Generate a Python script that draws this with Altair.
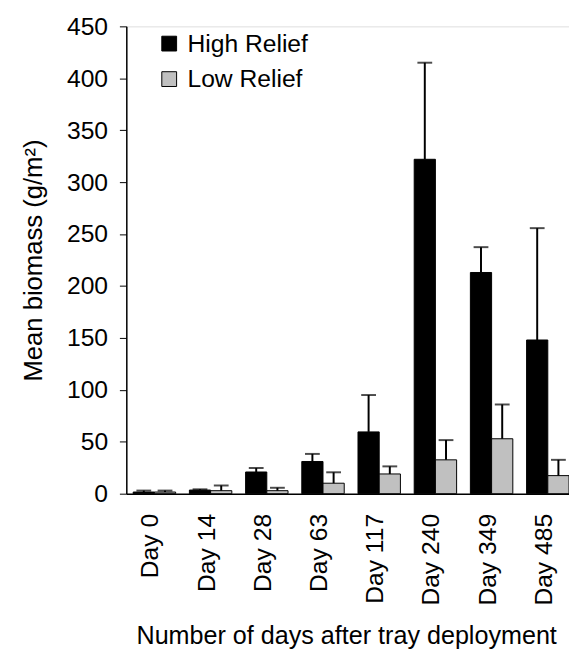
import altair as alt
import pandas as pd

days = ["Day 0", "Day 14", "Day 28", "Day 63", "Day 117", "Day 240", "Day 349", "Day 485"]
high_mean = [1.6, 3.5, 20.9, 31.0, 59.5, 322.0, 213.0, 148.0]
high_err = [1.4, 0.7, 3.8, 7.3, 35.5, 93.0, 24.4, 107.7]
low_mean = [1.6, 2.9, 2.9, 10.1, 19.0, 32.6, 52.9, 17.4]
low_err = [1.4, 5.0, 2.8, 10.5, 7.3, 19.0, 33.0, 15.2]
series = ["High Relief", "Low Relief"]
colors = ["#000000", "#c0c0c0"]
y_ticks = [0, 50, 100, 150, 200, 250, 300, 350, 400, 450]

rows = []
for i, d in enumerate(days):
    rows.append({"day": d, "series": series[0], "mean": high_mean[i], "top": high_mean[i] + high_err[i]})
    rows.append({"day": d, "series": series[1], "mean": low_mean[i], "top": low_mean[i] + low_err[i]})
df = pd.DataFrame(rows)

FONT = "Liberation Sans"

x_enc = alt.X(
    "day:N",
    sort=days,
    scale=alt.Scale(paddingInner=0.245, paddingOuter=0.1225),
    axis=alt.Axis(
        title="Number of days after tray deployment",
        labelAngle=-90,
        labelFontSize=25,
        labelFont=FONT,
        labelColor="black",
        labelPadding=20,
        labelOffset=-4,
        ticks=False,
        domainColor="black",
        domainWidth=1.5,
        titleFont=FONT,
        titleFontSize=25.5,
        titleFontWeight="normal",
        titleColor="black",
        titleX=223,
        titleY=152,
        titleAlign="center",
        titleBaseline="alphabetic",
    ),
)
xoff = alt.XOffset("series:N", sort=series, scale=alt.Scale(paddingInner=0, paddingOuter=0))

y_scale = alt.Scale(domain=[0, 450], nice=False)

bars = alt.Chart(df).mark_bar(stroke="black", strokeWidth=1).encode(
    x=x_enc,
    xOffset=xoff,
    y=alt.Y(
        "mean:Q",
        scale=y_scale,
        axis=alt.Axis(
            values=y_ticks,
            title="Mean biomass (g/m²)",
            grid=False,
            labelFontSize=25,
            labelFont=FONT,
            labelColor="black",
            labelPadding=12,
            tickSize=7,
            tickColor="black",
            domainColor="black",
            domainWidth=1.5,
            titleFont=FONT,
            titleFontSize=26,
            titleFontWeight="normal",
            titleColor="black",
            titleAngle=-90,
            titleX=-94,
            titleY=237,
            titleAlign="center",
            titleBaseline="middle",
        ),
    ),
    color=alt.Color(
        "series:N",
        sort=series,
        scale=alt.Scale(domain=series, range=colors),
        legend=alt.Legend(
            title=None,
            orient="none",
            legendX=31,
            legendY=5,
            symbolType="square",
            symbolSize=225,
            symbolStrokeColor="black",
            symbolStrokeWidth=1,
            labelFont=FONT,
            labelFontSize=25,
            labelColor="black",
            labelOffset=6,
            rowPadding=10,
        ),
    ),
)

rules = alt.Chart(df).mark_rule(color="black", strokeWidth=2).encode(
    x=alt.X("day:N", sort=days),
    xOffset=alt.XOffset("series:N", sort=series),
    y=alt.Y("mean:Q"),
    y2="top:Q",
)

caps = alt.Chart(df).mark_tick(color="black", thickness=2, size=15, orient="horizontal").encode(
    x=alt.X("day:N", sort=days),
    xOffset=alt.XOffset("series:N", sort=series),
    y=alt.Y("top:Q"),
)

chart = (
    alt.layer(bars, rules, caps)
    .properties(
        width=456,
        height=474,
        autosize=alt.AutoSizeParams(type="none"),
        padding={"left": 120, "top": 14, "right": -7, "bottom": 160},
    )
    .configure_view(stroke=None)
    .configure(background="white")
)

chart.save("out.html", embed_options={"renderer": "svg", "actions": False})
